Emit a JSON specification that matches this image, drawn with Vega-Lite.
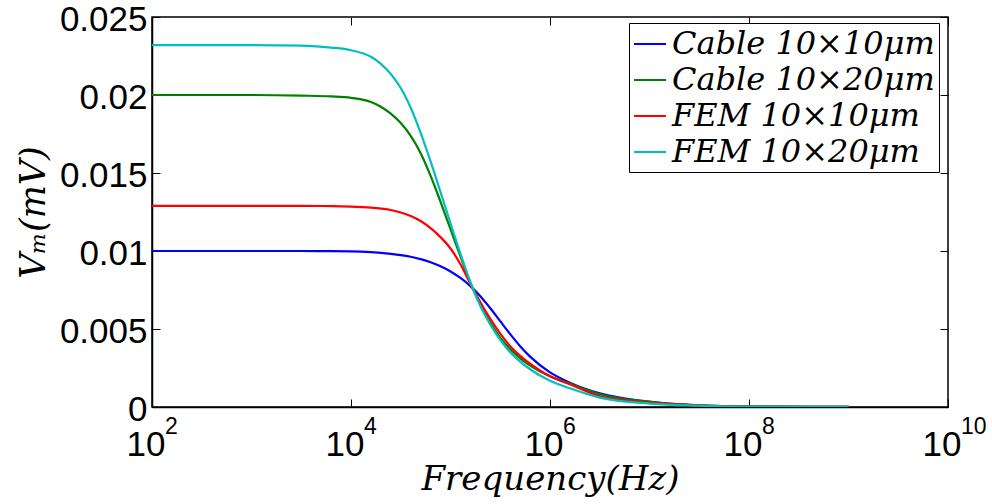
{
  "$schema": "https://vega.github.io/schema/vega-lite/v6.json",
  "width": 796,
  "height": 390,
  "autosize": "none",
  "padding": {"left": 152, "top": 17, "right": 44, "bottom": 97},
  "background": "white",
  "config": {
    "view": {"stroke": "black", "strokeWidth": 1.5},
    "axis": {"grid": false, "domainColor": "black", "domainWidth": 1.5, "tickColor": "black", "tickWidth": 1, "labelColor": "black", "labelFont": "Liberation Sans", "labelFontSize": 35, "titleColor": "black", "titleFont": "DejaVu Serif", "titleFontStyle": "italic", "titleFontWeight": "normal", "titleFontSize": 34}
  },
  "datasets": {
    "curves": [
      {"f": 100, "v": 0.0100, "s": "Cable 10×10μm"},
      {"f": 1000, "v": 0.0100, "s": "Cable 10×10μm"},
      {"f": 3162, "v": 0.0100, "s": "Cable 10×10μm"},
      {"f": 6310, "v": 0.00999, "s": "Cable 10×10μm"},
      {"f": 10000, "v": 0.00998, "s": "Cable 10×10μm"},
      {"f": 15849, "v": 0.00993, "s": "Cable 10×10μm"},
      {"f": 25119, "v": 0.00982, "s": "Cable 10×10μm"},
      {"f": 31623, "v": 0.00974, "s": "Cable 10×10μm"},
      {"f": 39811, "v": 0.00963, "s": "Cable 10×10μm"},
      {"f": 50119, "v": 0.00948, "s": "Cable 10×10μm"},
      {"f": 63096, "v": 0.00928, "s": "Cable 10×10μm"},
      {"f": 79433, "v": 0.00902, "s": "Cable 10×10μm"},
      {"f": 100000, "v": 0.00869, "s": "Cable 10×10μm"},
      {"f": 125893, "v": 0.00827, "s": "Cable 10×10μm"},
      {"f": 158489, "v": 0.00775, "s": "Cable 10×10μm"},
      {"f": 199526, "v": 0.00710, "s": "Cable 10×10μm"},
      {"f": 251189, "v": 0.00633, "s": "Cable 10×10μm"},
      {"f": 316228, "v": 0.00550, "s": "Cable 10×10μm"},
      {"f": 398107, "v": 0.00467, "s": "Cable 10×10μm"},
      {"f": 501187, "v": 0.00390, "s": "Cable 10×10μm"},
      {"f": 630957, "v": 0.00323, "s": "Cable 10×10μm"},
      {"f": 1000000, "v": 0.00222, "s": "Cable 10×10μm"},
      {"f": 1584893, "v": 0.00156, "s": "Cable 10×10μm"},
      {"f": 3162278, "v": 0.00087, "s": "Cable 10×10μm"},
      {"f": 10000000, "v": 0.00033, "s": "Cable 10×10μm"},
      {"f": 31622777, "v": 0.0001, "s": "Cable 10×10μm"},
      {"f": 100000000, "v": 0.00003, "s": "Cable 10×10μm"},
      {"f": 1000000000, "v": 0.000005, "s": "Cable 10×10μm"},

      {"f": 100, "v": 0.0200, "s": "Cable 10×20μm"},
      {"f": 1000, "v": 0.0200, "s": "Cable 10×20μm"},
      {"f": 3162, "v": 0.01996, "s": "Cable 10×20μm"},
      {"f": 6310, "v": 0.01991, "s": "Cable 10×20μm"},
      {"f": 10000, "v": 0.01982, "s": "Cable 10×20μm"},
      {"f": 15849, "v": 0.01955, "s": "Cable 10×20μm"},
      {"f": 19953, "v": 0.01925, "s": "Cable 10×20μm"},
      {"f": 25119, "v": 0.01880, "s": "Cable 10×20μm"},
      {"f": 31623, "v": 0.01820, "s": "Cable 10×20μm"},
      {"f": 39811, "v": 0.01738, "s": "Cable 10×20μm"},
      {"f": 50119, "v": 0.01627, "s": "Cable 10×20μm"},
      {"f": 63096, "v": 0.01482, "s": "Cable 10×20μm"},
      {"f": 79433, "v": 0.01315, "s": "Cable 10×20μm"},
      {"f": 100000, "v": 0.01140, "s": "Cable 10×20μm"},
      {"f": 125893, "v": 0.00965, "s": "Cable 10×20μm"},
      {"f": 158489, "v": 0.00795, "s": "Cable 10×20μm"},
      {"f": 199526, "v": 0.00655, "s": "Cable 10×20μm"},
      {"f": 251189, "v": 0.00540, "s": "Cable 10×20μm"},
      {"f": 316228, "v": 0.00445, "s": "Cable 10×20μm"},
      {"f": 398107, "v": 0.00370, "s": "Cable 10×20μm"},
      {"f": 501187, "v": 0.00312, "s": "Cable 10×20μm"},
      {"f": 630957, "v": 0.00266, "s": "Cable 10×20μm"},
      {"f": 1000000, "v": 0.00197, "s": "Cable 10×20μm"},
      {"f": 1584893, "v": 0.00150, "s": "Cable 10×20μm"},
      {"f": 3162278, "v": 0.00082, "s": "Cable 10×20μm"},
      {"f": 10000000, "v": 0.00034, "s": "Cable 10×20μm"},
      {"f": 31622777, "v": 0.0001, "s": "Cable 10×20μm"},
      {"f": 100000000, "v": 0.000026, "s": "Cable 10×20μm"},
      {"f": 1000000000, "v": 0.000005, "s": "Cable 10×20μm"},

      {"f": 100, "v": 0.01289, "s": "FEM 10×10μm"},
      {"f": 1000, "v": 0.01289, "s": "FEM 10×10μm"},
      {"f": 3162, "v": 0.01289, "s": "FEM 10×10μm"},
      {"f": 6310, "v": 0.01288, "s": "FEM 10×10μm"},
      {"f": 10000, "v": 0.01285, "s": "FEM 10×10μm"},
      {"f": 15849, "v": 0.01278, "s": "FEM 10×10μm"},
      {"f": 25119, "v": 0.01263, "s": "FEM 10×10μm"},
      {"f": 31623, "v": 0.01247, "s": "FEM 10×10μm"},
      {"f": 39811, "v": 0.01224, "s": "FEM 10×10μm"},
      {"f": 50119, "v": 0.01192, "s": "FEM 10×10μm"},
      {"f": 63096, "v": 0.01147, "s": "FEM 10×10μm"},
      {"f": 79433, "v": 0.01089, "s": "FEM 10×10μm"},
      {"f": 100000, "v": 0.01016, "s": "FEM 10×10μm"},
      {"f": 125893, "v": 0.00915, "s": "FEM 10×10μm"},
      {"f": 158489, "v": 0.00790, "s": "FEM 10×10μm"},
      {"f": 199526, "v": 0.00672, "s": "FEM 10×10μm"},
      {"f": 251189, "v": 0.00565, "s": "FEM 10×10μm"},
      {"f": 316228, "v": 0.00470, "s": "FEM 10×10μm"},
      {"f": 398107, "v": 0.00390, "s": "FEM 10×10μm"},
      {"f": 501187, "v": 0.00328, "s": "FEM 10×10μm"},
      {"f": 630957, "v": 0.00278, "s": "FEM 10×10μm"},
      {"f": 1000000, "v": 0.00197, "s": "FEM 10×10μm"},
      {"f": 1584893, "v": 0.00146, "s": "FEM 10×10μm"},
      {"f": 3162278, "v": 0.00069, "s": "FEM 10×10μm"},
      {"f": 10000000, "v": 0.00028, "s": "FEM 10×10μm"},
      {"f": 31622777, "v": 0.0001, "s": "FEM 10×10μm"},
      {"f": 100000000, "v": 0.00003, "s": "FEM 10×10μm"},
      {"f": 1000000000, "v": 0.000005, "s": "FEM 10×10μm"},

      {"f": 100, "v": 0.0232, "s": "FEM 10×20μm"},
      {"f": 1000, "v": 0.0232, "s": "FEM 10×20μm"},
      {"f": 3162, "v": 0.02316, "s": "FEM 10×20μm"},
      {"f": 6310, "v": 0.02304, "s": "FEM 10×20μm"},
      {"f": 10000, "v": 0.02287, "s": "FEM 10×20μm"},
      {"f": 15849, "v": 0.02245, "s": "FEM 10×20μm"},
      {"f": 19953, "v": 0.02200, "s": "FEM 10×20μm"},
      {"f": 25119, "v": 0.02135, "s": "FEM 10×20μm"},
      {"f": 31623, "v": 0.02045, "s": "FEM 10×20μm"},
      {"f": 39811, "v": 0.01918, "s": "FEM 10×20μm"},
      {"f": 50119, "v": 0.01757, "s": "FEM 10×20μm"},
      {"f": 63096, "v": 0.01574, "s": "FEM 10×20μm"},
      {"f": 79433, "v": 0.01377, "s": "FEM 10×20μm"},
      {"f": 100000, "v": 0.01177, "s": "FEM 10×20μm"},
      {"f": 125893, "v": 0.00982, "s": "FEM 10×20μm"},
      {"f": 158489, "v": 0.00800, "s": "FEM 10×20μm"},
      {"f": 199526, "v": 0.00647, "s": "FEM 10×20μm"},
      {"f": 251189, "v": 0.00529, "s": "FEM 10×20μm"},
      {"f": 316228, "v": 0.00431, "s": "FEM 10×20μm"},
      {"f": 398107, "v": 0.00351, "s": "FEM 10×20μm"},
      {"f": 501187, "v": 0.00291, "s": "FEM 10×20μm"},
      {"f": 630957, "v": 0.00242, "s": "FEM 10×20μm"},
      {"f": 1000000, "v": 0.00168, "s": "FEM 10×20μm"},
      {"f": 1584893, "v": 0.00120, "s": "FEM 10×20μm"},
      {"f": 3162278, "v": 0.00060, "s": "FEM 10×20μm"},
      {"f": 10000000, "v": 0.00022, "s": "FEM 10×20μm"},
      {"f": 31622777, "v": 0.00009, "s": "FEM 10×20μm"},
      {"f": 100000000, "v": 0.00003, "s": "FEM 10×20μm"},
      {"f": 1000000000, "v": 0.00001, "s": "FEM 10×20μm"}
    ],
    "exponents": [
      {"f": 100, "e": "2"},
      {"f": 10000, "e": "4"},
      {"f": 1000000, "e": "6"},
      {"f": 100000000, "e": "8"},
      {"f": 10000000000, "e": "10"}
    ]
  },
  "data": {"name": "curves"},
  "layer": [
    {
      "mark": {"type": "line", "strokeWidth": 2.2, "interpolate": "monotone", "clip": true},
      "encoding": {
        "x": {"field": "f", "type": "quantitative",
          "scale": {"type": "log", "domain": [100, 10000000000], "nice": false},
          "axis": {"title": "Frequency(Hz)", "values": [100, 10000, 1000000, 100000000, 10000000000], "tickSize": -8, "labelPadding": 28, "labelFlush": false, "labelAlign": "right", "labelOffset": 13, "labelExpr": "'10'", "titleBaseline": "alphabetic", "titleY": 82}},
        "y": {"field": "v", "type": "quantitative",
          "scale": {"domain": [0, 0.025], "nice": false},
          "axis": {"title": "Vₘ(mV)", "values": [0, 0.005, 0.01, 0.015, 0.02, 0.025], "format": "~g", "tickSize": -8, "labelPadding": 13, "labelOffset": 2, "labelFlush": false, "titleBaseline": "alphabetic", "titleX": -108, "titleFontSize": 35}},
        "color": {"field": "s", "type": "nominal",
          "scale": {"domain": ["Cable 10×10μm", "Cable 10×20μm", "FEM 10×10μm", "FEM 10×20μm"], "range": ["#0000ff", "#008000", "#ff0000", "#00bfbf"]},
          "legend": {"title": null, "orient": "none", "legendX": 477, "legendY": 6,
            "strokeColor": "black", "fillColor": "white", "padding": 4,
            "symbolType": "stroke", "symbolSize": 1024, "symbolStrokeWidth": 2,
            "labelFont": "DejaVu Serif", "labelFontStyle": "italic", "labelFontSize": 32, "labelColor": "black", "labelLimit": 400, "labelOffset": 5, "rowPadding": 3}}
      }
    },
    {
      "mark": {"type": "line", "opacity": 0},
      "encoding": {
        "x": {"field": "f", "type": "quantitative", "axis": {"orient": "top", "title": null, "labels": false, "domain": false, "values": [100, 10000, 1000000, 100000000, 10000000000], "tickSize": -8}},
        "y": {"field": "v", "type": "quantitative", "axis": {"orient": "right", "title": null, "labels": false, "domain": false, "values": [0, 0.005, 0.01, 0.015, 0.02, 0.025], "tickSize": -8}}
      }
    },
    {
      "data": {"name": "exponents"},
      "mark": {"type": "text", "align": "left", "baseline": "alphabetic", "dx": 13, "dy": 27, "fontSize": 23, "font": "Liberation Sans", "color": "black"},
      "encoding": {
        "x": {"field": "f", "type": "quantitative", "axis": null},
        "y": {"datum": 0, "type": "quantitative", "axis": null},
        "text": {"field": "e"}
      }
    }
  ],
  "resolve": {"axis": {"x": "independent", "y": "independent"}}
}
